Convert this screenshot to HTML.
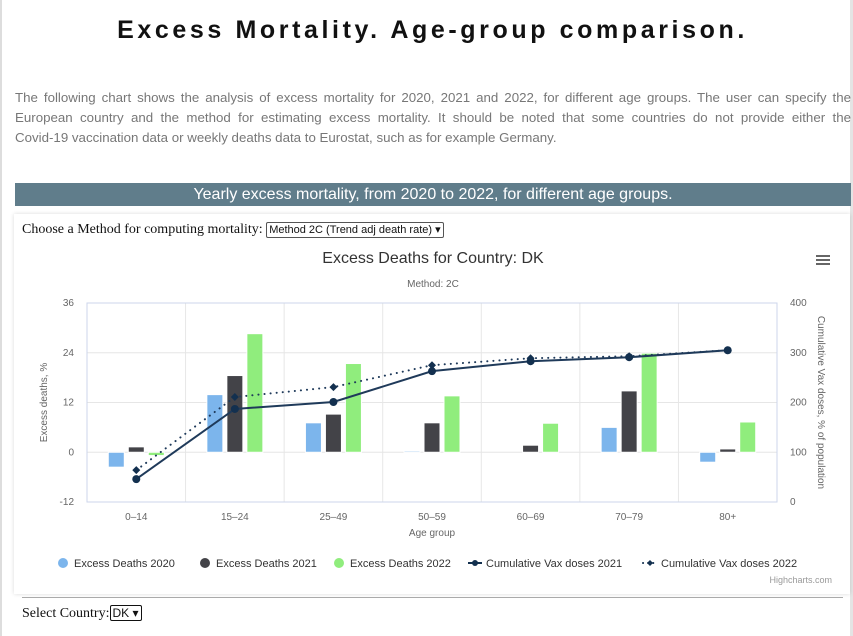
<!DOCTYPE html>
<html><head><meta charset="utf-8">
<style>
body{margin:0;width:853px;height:636px;overflow:hidden;background:#fff;font-family:"Liberation Sans",sans-serif;position:relative}
.lb{position:absolute;left:0;top:0;width:2px;height:636px;background:#ddd}
.rb{position:absolute;left:850px;top:0;width:3px;height:636px;background:#e4e4e4}
h1{position:absolute;left:0;width:865px;top:16px;margin:0;text-align:center;font-size:25px;letter-spacing:3.6px;font-weight:bold;color:#111}
div.d{position:absolute;left:15px;top:88px;width:836px;margin:0;font-size:13.3px;line-height:20px;color:#777}
div.d div{white-space:nowrap}
div.d div.j{text-align:justify;text-align-last:justify}
.ban{position:absolute;left:15px;top:183px;width:836px;height:23px;background:#607d8b;color:#fff;font-size:16px;text-align:center;line-height:23px}
.box{position:absolute;left:14px;top:214px;width:836px;height:380px;background:#fff;box-shadow:0 0 4px rgba(0,0,0,.15)}
.sel{position:absolute;left:22px;top:222px;font-family:"Liberation Serif",serif;font-size:14px;color:#111}
.sel span.s{display:inline-block;border:1px solid #555;border-radius:2px;font-family:"Liberation Sans",sans-serif;font-size:11px;padding:0 2px;line-height:14px}
.hr{position:absolute;left:22px;top:597px;width:821px;height:1px;background:#aaa}
.sc{position:absolute;left:22px;top:605px;font-family:"Liberation Serif",serif;font-size:14px;color:#111}
</style></head><body>
<div class="lb"></div>
<div class="rb"></div>
<h1>Excess Mortality. Age-group comparison.</h1>
<div class="d"><div class="j">The following chart shows the analysis of excess mortality for 2020, 2021 and 2022, for different age groups. The user can specify the</div><div class="j">European country and the method for estimating excess mortality. It should be noted that some countries do not provide either the</div><div>Covid-19 vaccination data or weekly deaths data to Eurostat, such as for example Germany.</div></div>
<div class="ban">Yearly excess mortality, from 2020 to 2022, for different age groups.</div>
<div class="box"></div>
<div class="sel">Choose a Method for computing mortality: <span class="s">Method 2C (Trend adj death rate) ▾</span></div>
<svg id="c" width="853" height="636" style="position:absolute;left:0;top:0" font-family="Liberation Sans, sans-serif"></svg>
<div class="hr"></div>
<div class="sc">Select Country:<span class="s" style="display:inline-block;border:1px solid #111;border-radius:2px;font-family:'Liberation Sans',sans-serif;font-size:12px;padding:0 2px;line-height:14px">DK ▾</span></div>
<script>
const categories=["0-14","15-24","25-49","50-59","60-69","70-79","80+"];
const deaths2020=[-3.6,13.9,7.1,0.3,0,6.0,-2.4];
const deaths2021=[1.3,18.5,9.2,7.1,1.7,14.8,0.8];
const deaths2022=[-0.8,28.6,21.4,13.6,7.0,23.9,7.3];
const vax2021=[46,187,201,263,283,291,305];
const vax2022=[64,211,231,275,289,293,305];
const leftTicks=[-12,0,12,24,36];
const rightTicks=[0,100,200,300,400];
const svg=document.getElementById('c');const NS='http://www.w3.org/2000/svg';
function mk(t,a,p){const e=document.createElementNS(NS,t);for(const k in a)e.setAttribute(k,a[k]);(p||svg).appendChild(e);return e;}
const X0=87,X1=777,Y0=502,Y1=303;
const cw=(X1-X0)/categories.length;
const xc=i=>X0+cw*(i+0.5);
const yL=v=>Y0-(v+12)/48*(Y0-Y1);
const yR=v=>Y0-v/400*(Y0-Y1);
let t;
t=mk('text',{x:433,y:263,'text-anchor':'middle','font-size':16,fill:'#333'});t.textContent='Excess Deaths for Country: DK';


t=mk('text',{x:433,y:287,'text-anchor':'middle','font-size':10,fill:'#666'});t.textContent='Method: 2C';


const menu=mk('g',{});


for(let k=0;k<3;k++)mk('rect',{x:816,y:255+k*4,width:14,height:2,fill:'#666'},menu);
leftTicks.forEach(v=>{const l=mk('line',{x1:X0,x2:X1,y1:yL(v),y2:yL(v),stroke:'#e6e6e6'});


const tt=mk('text',{x:74,y:yL(v)+3,'text-anchor':'end','font-size':10,fill:'#666'});tt.textContent=v;

});
rightTicks.forEach(v=>{const tt=mk('text',{x:790,y:yR(v)+3,'font-size':10,fill:'#666'});tt.textContent=v;

});
for(let i=1;i<categories.length;i++){const l=mk('line',{x1:X0+cw*i,x2:X0+cw*i,y1:Y1,y2:Y0,stroke:'#e6e6e6'});

}
mk('rect',{x:X0,y:Y1,width:X1-X0,height:Y0-Y1,fill:'none',stroke:'#ccd6eb'});
categories.forEach((c,i)=>{const tt=mk('text',{x:xc(i),y:520,'text-anchor':'middle','font-size':10,fill:'#666'});tt.textContent=c.replace('-','–');

});
t=mk('text',{x:432,y:536,'text-anchor':'middle','font-size':10,fill:'#666'});t.textContent='Age group';


t=mk('text',{x:0,y:0,'text-anchor':'middle','font-size':10,fill:'#666',transform:`translate(47,${(Y0+Y1)/2}) rotate(-90)`});t.textContent='Excess deaths, %';


t=mk('text',{x:0,y:0,'text-anchor':'middle','font-size':10,fill:'#666',transform:`translate(818,${(Y0+Y1)/2}) rotate(90)`});t.textContent='Cumulative Vax doses, % of population';


const series=[[deaths2020,'#7cb5ec',-20],[deaths2021,'#434348',0],[deaths2022,'#90ed7d',20]];
series.forEach(([arr,col,off],s)=>arr.forEach((v,i)=>{const y0=yL(0),y=yL(v);
const r=mk('rect',{x:xc(i)+off-8,y:Math.min(y,y0),width:16,height:Math.max(Math.abs(y-y0),v===0?0:1),fill:col,stroke:'#fff','stroke-width':1});

}));
function line(arr,dash,marker,name){const pts=arr.map((v,i)=>xc(i)+','+yR(v)).join(' ');
const p=mk('polyline',{points:pts,fill:'none',stroke:'#1f3a5a','stroke-width':2,'stroke-dasharray':dash?'0.1,6':'none','stroke-linecap':'round'});


arr.forEach((v,i)=>{let m;if(marker==='c')m=mk('circle',{cx:xc(i),cy:yR(v),r:4,fill:'#13304f'});
else m=mk('path',{d:`M${xc(i)} ${yR(v)-4}L${xc(i)+4} ${yR(v)}L${xc(i)} ${yR(v)+4}L${xc(i)-4} ${yR(v)}Z`,fill:'#13304f'});

});}
line(vax2022,true,'d','vax-2022-line');
line(vax2021,false,'c','vax-2021-line');
const leg=[['Excess Deaths 2020','#7cb5ec','dot',60],['Excess Deaths 2021','#434348','dot',202],['Excess Deaths 2022','#90ed7d','dot',336],['Cumulative Vax doses 2021','#13304f','l',472],['Cumulative Vax doses 2022','#13304f','d',647]];
leg.forEach(([n,col,type,x])=>{const g=mk('g',{});


if(type==='dot')mk('circle',{cx:x+3,cy:563,r:5,fill:col},g);
else if(type==='l'){mk('line',{x1:x-4,x2:x+10,y1:563,y2:563,stroke:col,'stroke-width':2},g);mk('circle',{cx:x+3,cy:563,r:3,fill:col},g);}
else{mk('line',{x1:x-4,x2:x+10,y1:563,y2:563,stroke:col,'stroke-width':2,'stroke-dasharray':'0.1,5','stroke-linecap':'round'},g);mk('path',{d:`M${x+3} 560L${x+6} 563L${x+3} 566L${x} 563Z`,fill:col},g);}
const tt=mk('text',{x:x+14,y:567,'font-size':11,fill:'#333'},g);tt.textContent=n;});
t=mk('text',{x:832,y:583,'text-anchor':'end','font-size':9,fill:'#999'});t.textContent='Highcharts.com';


</script>
</body></html>
